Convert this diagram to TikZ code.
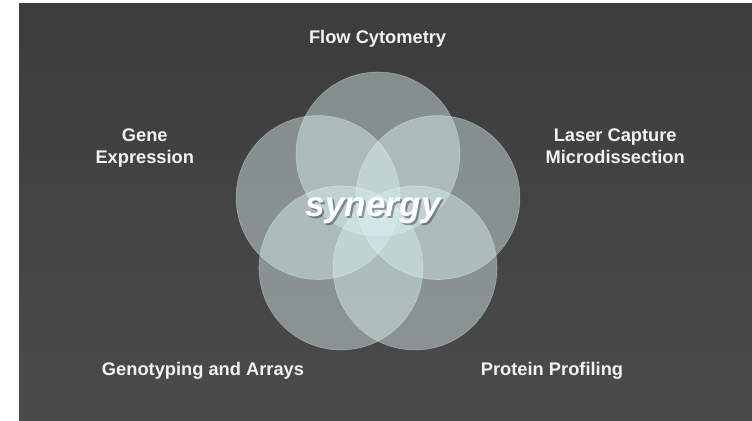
\documentclass[tikz,border=0pt]{standalone}
\usepackage{fontspec}
\setmainfont{Liberation Sans}
\definecolor{slidetop}{RGB}{60,60,60}
\definecolor{slidebottom}{RGB}{75,75,75}
\definecolor{petalfill}{RGB}{218,240,240}
\definecolor{labeltext}{RGB}{242,242,242}
\tikzset{
  petal/.style={fill=petalfill, fill opacity=0.45, draw=white, draw opacity=0.35, line width=0.4pt},
  topic/.style={text=labeltext, font=\fontsize{13}{16}\selectfont\bfseries, inner sep=0pt, align=center},
  bigword/.style={font=\fontsize{25}{30}\selectfont\bfseries\itshape, inner sep=0pt, anchor=base}
}
\begin{document}
\begin{tikzpicture}
\useasboundingbox (0,0) rectangle (18.8,10.5);
\fill[white] (0,0) rectangle (18.8,10.5);
\shade[top color=slidetop, bottom color=slidebottom] (0.475,0) rectangle (18.8,10.4);
% five overlapping circles
\foreach \a in {90,162,234,306,18}
  \filldraw[petal] (9.45,5.075) ++(\a:1.575) circle (2.05);
% word in the middle, with its shadow
\node (synshadow) [bigword, text=black, text opacity=0.35] at (9.38,5.03) {synergy};
\node (synergy) [bigword, text=white] at (9.33,5.08) {synergy};
% labels round the circles
\node (flow) [topic, anchor=base] at (9.44,9.42) {Flow Cytometry};
\node (gene) [topic, anchor=north] at (3.62,7.29) {Gene\\Expression};
\node (laser) [topic, anchor=north] at (15.38,7.29) {Laser Capture\\Microdissection};
\node (geno) [topic, anchor=base] at (5.075,1.125) {Genotyping and Arrays};
\node (prot) [topic, anchor=base] at (13.8,1.125) {Protein Profiling};
\end{tikzpicture}
\end{document}
